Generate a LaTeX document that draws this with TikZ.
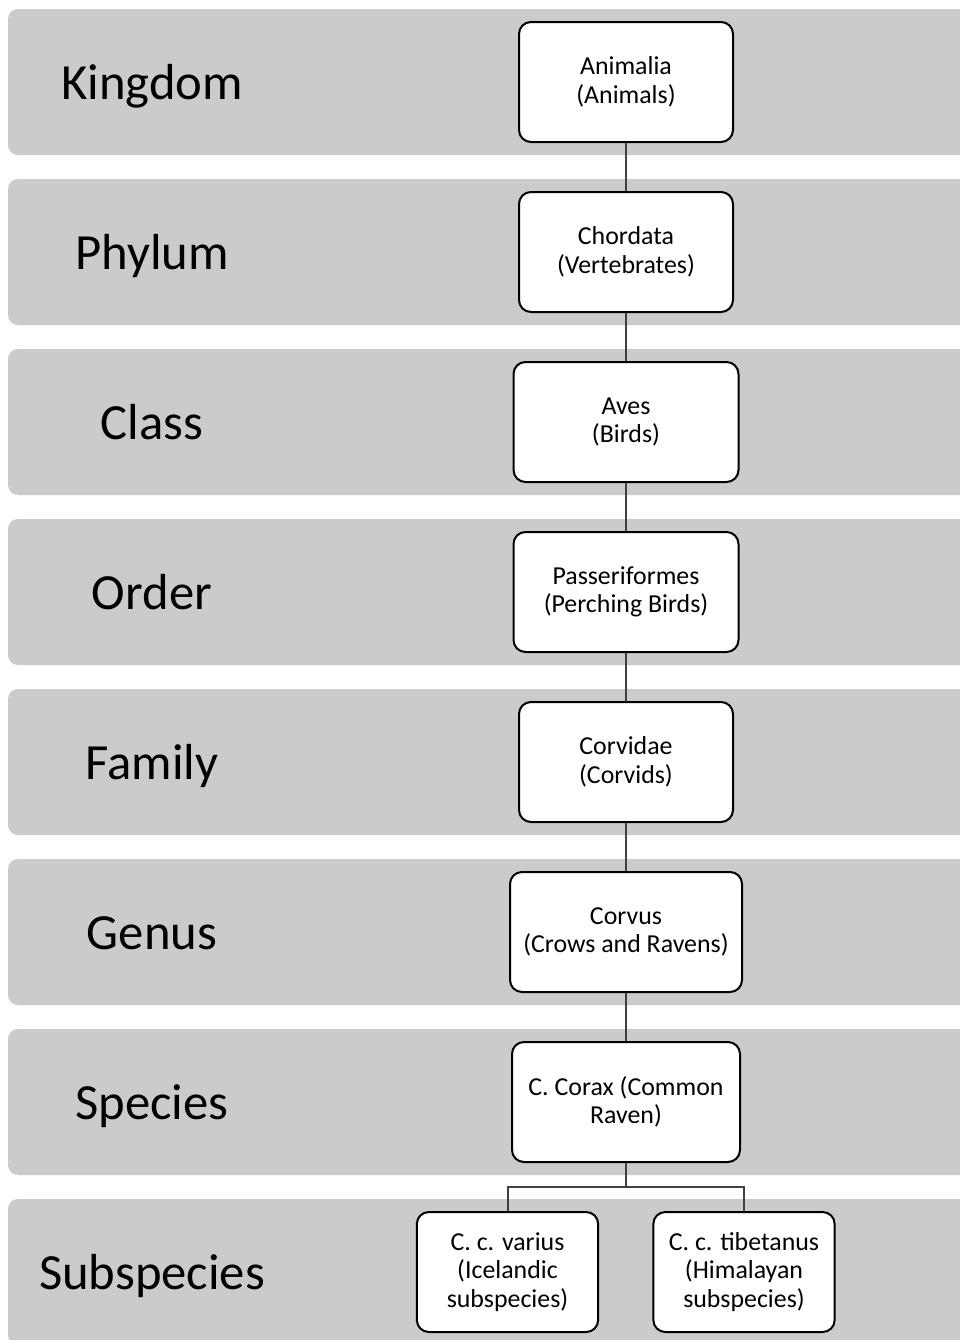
\documentclass[tikz,border=0pt]{standalone}
\usepackage{fontspec}
\setmainfont{Carlito}
\definecolor{bandgray}{RGB}{203,203,203}
\definecolor{linegray}{RGB}{64,64,64}
\begin{document}
\begin{tikzpicture}[x=0.75pt,y=-0.75pt,
  band/.style={fill=bandgray,rounded corners=7.5pt},
  rank/.style={anchor=base,font=\fontsize{38}{46}\selectfont,inner sep=0pt},
  taxon/.style={draw=black,line width=1.5pt,fill=white,rounded corners=9pt,
    minimum height=90pt,align=center,inner sep=2pt,
    font=\fontsize{19.4}{21.3}\selectfont},
  link/.style={draw=linegray,line width=1.5pt}]
\clip (0,0) rectangle (960,1340);
\fill[white] (0,0) rectangle (960,1340);
\foreach \k in {0,...,7}{
  \fill[band] (8,{9+170*\k}) rectangle (1000,{155+170*\k});
}
\node[rank] (rk) at (152,99) {Kingdom};
\node[rank] (rp) at (152,269) {Phylum};
\node[rank] (rc) at (152,439) {Class};
\node[rank] (ro) at (152,609) {Order};
\node[rank] (rf) at (152,779) {Family};
\node[rank] (rg) at (152,949) {Genus};
\node[rank] (rs) at (152,1119) {Species};
\node[rank] (rss) at (152,1289) {Subspecies};

\node[taxon,minimum width=160.5pt] (k) at (626,82) {Animalia\\(Animals)};
\node[taxon,minimum width=160.5pt] (p) at (626,252) {Chordata\\(Vertebrates)};
\node[taxon,minimum width=168.75pt] (c) at (626,422) {Aves\\(Birds)};
\node[taxon,minimum width=168.75pt] (o) at (626,592) {Passeriformes\\(Perching Birds)};
\node[taxon,minimum width=160.5pt] (f) at (626,762) {Corvidae\\(Corvids)};
\node[taxon,minimum width=174pt] (g) at (626,932) {Corvus\\(Crows and Ravens)};
\node[taxon,minimum width=171pt] (s) at (626,1102) {C. Corax (Common\\Raven)};
\node[taxon,minimum width=136pt] (sa) at (507.5,1272) {C. c. varius\\(Icelandic\\subspecies)};
\node[taxon,minimum width=136pt] (sb) at (744,1272) {C. c. tibetanus\\(Himalayan\\subspecies)};

\coordinate (j) at (626,1187);
\draw[link] (k) -- (p);
\draw[link] (p) -- (c);
\draw[link] (c) -- (o);
\draw[link] (o) -- (f);
\draw[link] (f) -- (g);
\draw[link] (g) -- (s);
\draw[link] (s) -- (j);
\draw[link] (sa.north) |- (j) -| (sb.north);
\end{tikzpicture}
\end{document}
